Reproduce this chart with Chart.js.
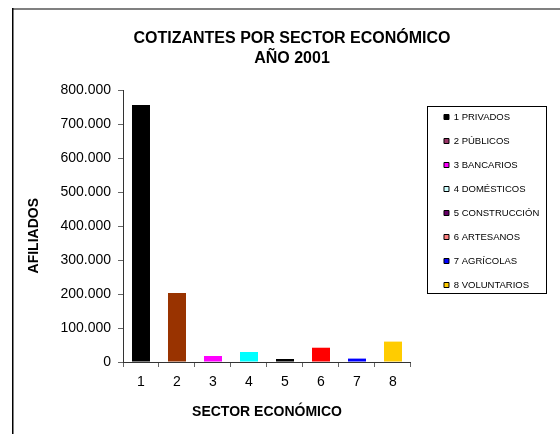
<!DOCTYPE html>
<html><head><meta charset="utf-8">
<script src="https://cdn.jsdelivr.net/npm/chart.js@4/dist/chart.umd.min.js"></script>
<style>html,body{margin:0;padding:0;background:#fff}#wrap{position:relative;width:560px;height:434px}</style>
</head><body><div id="wrap"><canvas id="c"></canvas></div>
<script>
const categories = ['1','2','3','4','5','6','7','8'];
const sectorNames = ['1 PRIVADOS','2 PÚBLICOS','3 BANCARIOS','4 DOMÉSTICOS','5 CONSTRUCCIÓN','6 ARTESANOS','7 AGRÍCOLAS','8 VOLUNTARIOS'];
const afiliados = [756000, 203000, 17600, 29400, 8800, 42000, 10000, 60000];
const barColors = ['#000000','#993300','#FF00FF','#00FFFF','#000000','#FF0000','#0000FF','#FFCC00'];
const legendColors = ['#000000','#993366','#FF00FF','#CCFFFF','#660066','#FF8080','#0000FF','#FFCC00'];
const yTickLabels = ['0','100.000','200.000','300.000','400.000','500.000','600.000','700.000','800.000'];
const titleLines = ['COTIZANTES POR SECTOR ECONÓMICO','AÑO 2001'];

Chart.defaults.font.family = '"Liberation Sans", Arial, sans-serif';
Chart.defaults.color = '#000';

const framePlugin = {
  id: 'frame',
  beforeDraw(chart) {
    const ctx = chart.ctx;
    ctx.save();
    ctx.fillStyle = '#fff';
    ctx.fillRect(0, 0, chart.width, chart.height);
    ctx.restore();
  },
  afterDraw(chart) {
    const ctx = chart.ctx;
    ctx.save();
    ctx.fillStyle = '#808080';
    ctx.fillRect(12, 8, chart.width - 12, 2);
    ctx.fillStyle = '#000';
    ctx.fillRect(12, 8, 1.5, chart.height - 8);
    const lg = chart.legend;
    if (lg && lg.legendHitBoxes && lg.legendHitBoxes.length) {
      const hb = lg.legendHitBoxes;
      const first = hb[0], last = hb[hb.length - 1];
      let maxRight = 0;
      hb.forEach(h => { maxRight = Math.max(maxRight, h.left + h.width); });
      const l = Math.round(first.left - 17) + 0.5;
      const t = Math.round(first.top + first.height / 2 - 11) + 0.5;
      const r = Math.round(maxRight + 7) + 0.5;
      const b = Math.round(last.top + last.height / 2 + 8) + 0.5;
      ctx.strokeStyle = '#000';
      ctx.lineWidth = 1;
      ctx.strokeRect(l, t, r - l, b - t);
    }
    ctx.restore();
  }
};

new Chart(document.getElementById('c'), {
  type: 'bar',
  data: {
    labels: categories,
    datasets: [{
      label: 'AFILIADOS',
      data: afiliados,
      backgroundColor: barColors,
      borderWidth: 0,
      categoryPercentage: 1.0,
      barPercentage: 0.5
    }]
  },
  options: {
    responsive: true,
    maintainAspectRatio: false,
    animation: false,
    devicePixelRatio: 1,
    layout: { padding: { left: 34.75, right: 10.75, top: 0, bottom: 0 } },
    plugins: {
      title: {
        display: true,
        text: titleLines,
        font: { size: 16, weight: 'bold', lineHeight: 1.25 },
        color: '#000',
        padding: { top: 28.5, bottom: 21.5 }
      },
      legend: {
        display: true,
        position: 'right',
        align: 'start',
        fullSize: false,
        maxWidth: 140,
        onClick: null,
        title: { display: true, text: '', font: { size: 1, lineHeight: 1 }, padding: { top: 3.375, bottom: 3.375 } },
        labels: {
          boxWidth: 5,
          boxHeight: 5,
          padding: 14.5,
          color: '#000',
          font: { size: 9.5 },
          generateLabels: () => sectorNames.map((n, i) => ({
            text: n,
            fillStyle: legendColors[i],
            strokeStyle: '#000',
            lineWidth: 1,
            hidden: false,
            index: i,
            datasetIndex: 0
          }))
        }
      },
      tooltip: { enabled: false }
    },
    scales: {
      x: {
        offset: true,
        grid: { offset: true, drawOnChartArea: false, drawTicks: true, tickLength: 5, color: '#666' },
        border: { display: true, color: '#333', width: 1 },
        ticks: { font: { size: 14 }, color: '#000', padding: 7, maxRotation: 0 },
        title: { display: true, text: 'SECTOR ECONÓMICO', font: { size: 14, weight: 'bold' }, color: '#000', padding: { top: 0, bottom: 13 } },
        afterFit(s) { s.height = 72; }
      },
      y: {
        min: 0,
        max: 800000,
        ticks: { stepSize: 100000, font: { size: 14 }, color: '#000', padding: 7,
          callback: (v, i) => yTickLabels[i] },
        grid: { drawOnChartArea: false, drawTicks: true, tickLength: 5, color: '#666' },
        border: { display: true, color: '#333', width: 1 },
        title: { display: true, text: 'AFILIADOS     ', font: { size: 14, weight: 'bold' }, color: '#000', padding: { top: -9.15, bottom: 0 } },
        afterFit(s) { s.width = 88.25; }
      },
      gap: {
        type: 'linear',
        position: 'right',
        display: true,
        grid: { display: false, drawTicks: false },
        border: { display: false },
        ticks: { display: false },
        afterFit(s) { s.width = 18.5; }
      }
    }
  },
  plugins: [framePlugin]
});
</script></body></html>
